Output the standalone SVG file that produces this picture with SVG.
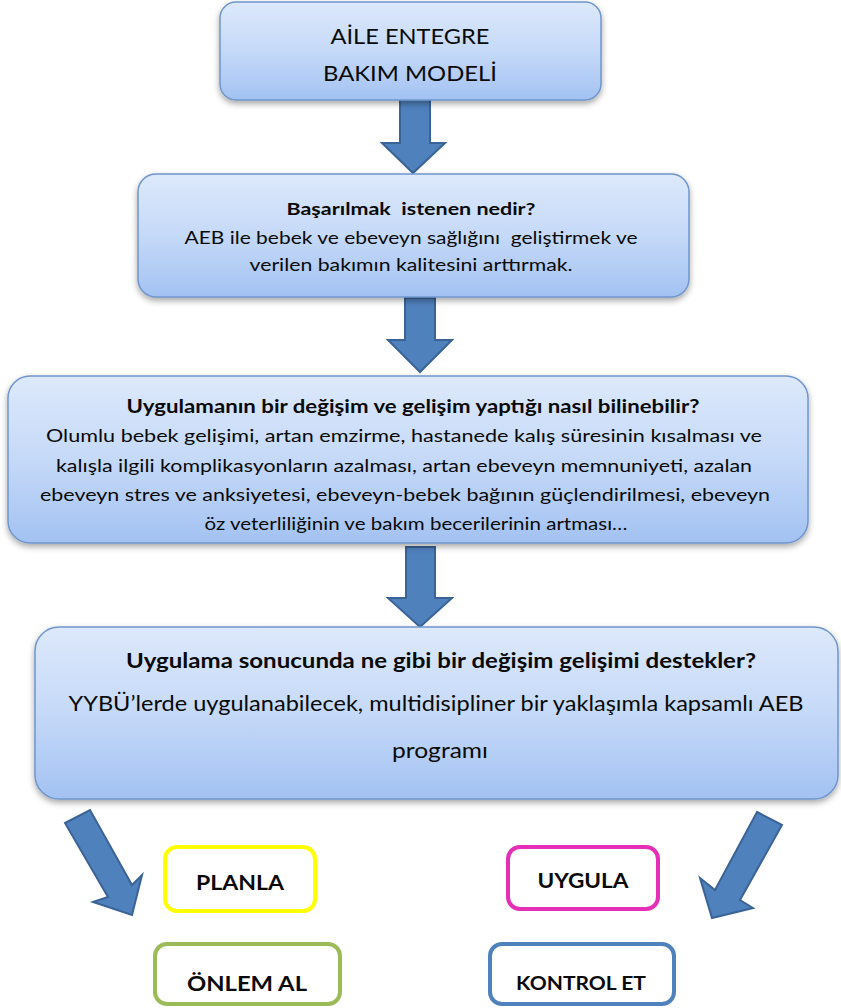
<svg xmlns="http://www.w3.org/2000/svg" width="841" height="1008" viewBox="0 0 841 1008">
<defs>
<linearGradient id="boxGrad" x1="0" y1="0" x2="0" y2="1">
<stop offset="0" stop-color="#dde9fb"/>
<stop offset="0.5" stop-color="#c5d9f8"/>
<stop offset="1" stop-color="#a3c2f2"/>
</linearGradient>
<filter id="shadow" x="-5%" y="-10%" width="110%" height="130%">
<feDropShadow dx="0" dy="3" stdDeviation="3" flood-color="#000" flood-opacity="0.35"/>
</filter>
</defs>
<style>
.box{fill:url(#boxGrad);stroke:#6f96cb;stroke-width:1.5;filter:url(#shadow)}
.arr{fill:#4f81bd;stroke:#3a6396;stroke-width:2;stroke-linejoin:miter}
.small{fill:#ffffff;stroke-width:4}
text{font-family:Lato,"Liberation Sans",sans-serif;fill:#0a0a0a;text-anchor:middle;white-space:pre}
.b{font-weight:bold}
</style>
<g id="connectors">
<path class="arr" d="M400,99 L430,99 L430,143 L445,143 L413,173 L382,143 L400,143 Z"/>
<path class="arr" d="M405,298 L435,298 L435,340 L452,340 L420,372 L388,340 L405,340 Z"/>
<path class="arr" d="M406,547 L435,547 L435,598 L452,598 L420,627 L388,598 L406,598 Z"/>
<path class="arr" d="M65,823 L90,810 L132,885 L142,875 L132,915 L93,902 L108,897 Z"/>
<path class="arr" d="M757,812 L782,825 L740,900 L753,908 L712,918 L700,878 L715,890 Z"/>
</g>
<g id="node1">
<rect class="box" x="220" y="2" width="381" height="98" rx="16"/>
<text x="410" y="44" font-size="22" textLength="159" lengthAdjust="spacingAndGlyphs">AİLE ENTEGRE</text>
<text x="410" y="81" font-size="22" textLength="174" lengthAdjust="spacingAndGlyphs">BAKIM MODELİ</text>
</g>
<g id="node2">
<rect class="box" x="138" y="174" width="551" height="123" rx="18"/>
<text class="b" x="411" y="215" font-size="17" textLength="249" lengthAdjust="spacingAndGlyphs" xml:space="preserve">Başarılmak  istenen nedir?</text>
<text x="411" y="244" font-size="17.5" textLength="453" lengthAdjust="spacingAndGlyphs" xml:space="preserve">AEB ile bebek ve ebeveyn sağlığını  geliştirmek ve</text>
<text x="411" y="271" font-size="17.5" textLength="323" lengthAdjust="spacingAndGlyphs">verilen bakımın kalitesini arttırmak.</text>
</g>
<g id="node3">
<rect class="box" x="8" y="376" width="800" height="167" rx="22"/>
<text class="b" x="413" y="413" font-size="18" textLength="573" lengthAdjust="spacingAndGlyphs">Uygulamanın bir değişim ve gelişim yaptığı nasıl bilinebilir?</text>
<text x="404" y="442" font-size="18" textLength="716" lengthAdjust="spacingAndGlyphs">Olumlu bebek gelişimi, artan emzirme, hastanede kalış süresinin kısalması ve</text>
<text x="404" y="472" font-size="18" textLength="696" lengthAdjust="spacingAndGlyphs">kalışla ilgili komplikasyonların azalması, artan ebeveyn memnuniyeti, azalan</text>
<text x="405" y="501" font-size="18" textLength="730" lengthAdjust="spacingAndGlyphs">ebeveyn stres ve anksiyetesi, ebeveyn-bebek bağının güçlendirilmesi, ebeveyn</text>
<text x="416" y="530" font-size="18" textLength="423" lengthAdjust="spacingAndGlyphs">öz veterliliğinin ve bakım becerilerinin artması…</text>
</g>
<g id="node4">
<rect class="box" x="35" y="627" width="803" height="172" rx="24"/>
<text class="b" x="441" y="668" font-size="21" textLength="630" lengthAdjust="spacingAndGlyphs">Uygulama sonucunda ne gibi bir değişim gelişimi destekler?</text>
<text x="436" y="711" font-size="20.5" textLength="735" lengthAdjust="spacingAndGlyphs">YYBÜ’lerde uygulanabilecek, multidisipliner bir yaklaşımla kapsamlı AEB</text>
<text x="440" y="758" font-size="20.5" textLength="96" lengthAdjust="spacingAndGlyphs">programı</text>
</g>
<g id="planla">
<rect class="small" x="165" y="847" width="150" height="64" rx="12" stroke="#ffff00"/>
<text class="b" x="240" y="890" font-size="21" textLength="88" lengthAdjust="spacingAndGlyphs">PLANLA</text>
</g>
<g id="uygula">
<rect class="small" x="508" y="847" width="150" height="62" rx="12" stroke="#e52fb6"/>
<text class="b" x="583" y="888" font-size="21" textLength="91" lengthAdjust="spacingAndGlyphs">UYGULA</text>
</g>
<g id="onlemal">
<rect class="small" x="155" y="944" width="185" height="60" rx="12" stroke="#9bbb59"/>
<text class="b" x="247" y="991" font-size="21" textLength="120" lengthAdjust="spacingAndGlyphs">ÖNLEM AL</text>
</g>
<g id="kontrolet">
<rect class="small" x="490" y="944" width="184" height="60" rx="12" stroke="#4f81bd"/>
<text class="b" x="581" y="990" font-size="19" textLength="130" lengthAdjust="spacingAndGlyphs">KONTROL ET</text>
</g>
</svg>
